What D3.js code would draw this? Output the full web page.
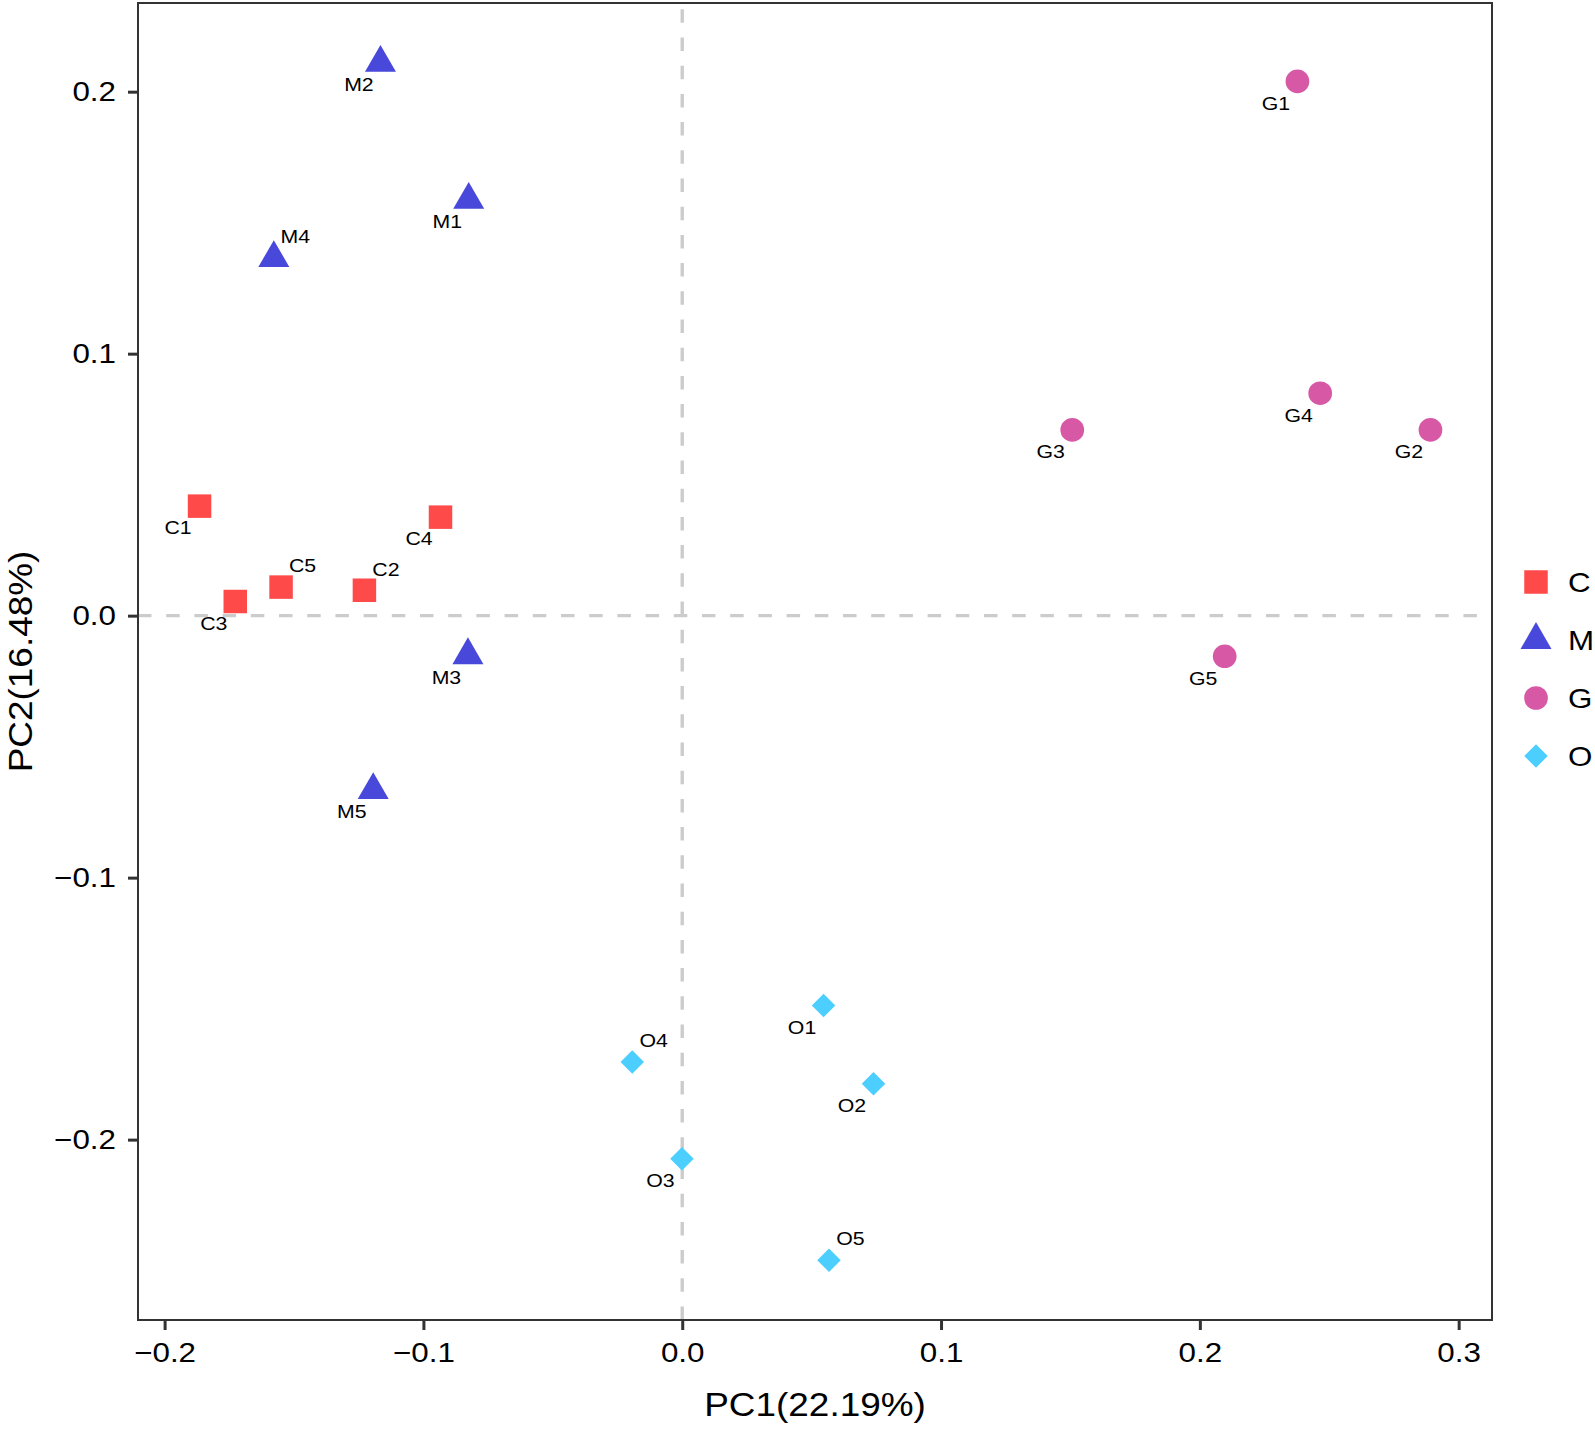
<!DOCTYPE html>
<html>
<head>
<meta charset="utf-8">
<script src="https://cdn.jsdelivr.net/npm/d3@7"></script>
<style>
  body { margin: 0; background: #ffffff; }
  svg { display: block; }
</style>
</head>
<body>
<svg id="chart" width="1595" height="1431"></svg>
<script>
// --- data ---
const groups = ["C", "M", "G", "O"];
const sampleNames = ["C1", "C2", "C3", "C4", "C5",
                     "M1", "M2", "M3", "M4", "M5",
                     "G1", "G2", "G3", "G4", "G5",
                     "O1", "O2", "O3", "O4", "O5"];
const sampleGroup = ["C", "C", "C", "C", "C",
                     "M", "M", "M", "M", "M",
                     "G", "G", "G", "G", "G",
                     "O", "O", "O", "O", "O"];
const pc1 = [-0.1865, -0.1228, -0.1727, -0.0934, -0.1550,
             -0.0825, -0.1166, -0.0828, -0.1578, -0.1194,
              0.2377,  0.2891,  0.1507,  0.2465,  0.2096,
              0.0546,  0.0739, -0.0001, -0.0193,  0.0567];
const pc2 = [ 0.0418,  0.0097,  0.0054,  0.0376,  0.0109,
              0.1587,  0.2110, -0.0151,  0.1365, -0.0666,
              0.2039,  0.0709,  0.0709,  0.0849, -0.0155,
             -0.1488, -0.1787, -0.2073, -0.1704, -0.2460];
// labels drawn up-right of their point (all others go down-left)
const labelsUpRight = ["C5", "C2", "M4", "O4", "O5"];

const xTickValues = [-0.2, -0.1, 0.0, 0.1, 0.2, 0.3];
const yTickValues = [-0.2, -0.1, 0.0, 0.1, 0.2];
const xTitle = "PC1(22.19%)";
const yTitle = "PC2(16.48%)";

const groupColors = { C: "#ff4a4a", M: "#4848da", G: "#d759a6", O: "#4ccfff" };

// --- layout ---
const panel = { left: 138, right: 1492, top: 3, bottom: 1320 };
const FONT = "'Liberation Sans', Arial, Helvetica, sans-serif";
const STRETCH = 1.12; // reference text is a bit wider than Arial

const diamond = {
  draw(context, size) {
    const r = Math.sqrt(size) / 2;
    context.moveTo(0, -r);
    context.lineTo(r, 0);
    context.lineTo(0, r);
    context.lineTo(-r, 0);
    context.closePath();
  }
};
const groupSymbol = {
  C: d3.symbol().type(d3.symbolSquare).size(23.5 * 23.5),
  M: d3.symbol().type(d3.symbolTriangle).size(416),
  G: d3.symbol().type(d3.symbolCircle).size(441),
  O: d3.symbol().type(diamond).size(23.5 * 23.5)
};

const points = sampleNames.map((name, i) => ({
  name, group: sampleGroup[i], x: pc1[i], y: pc2[i]
}));

// ggplot-like 5% expansion of the data range
function expand(ext) {
  const pad = (ext[1] - ext[0]) * 0.05;
  return [ext[0] - pad, ext[1] + pad];
}

const x = d3.scaleLinear()
  .domain(expand(d3.extent(pc1)))
  .range([panel.left, panel.right]);
const y = d3.scaleLinear()
  .domain(expand(d3.extent(pc2)))
  .range([panel.bottom, panel.top]);

const svg = d3.select("#chart");
svg.append("rect").attr("width", 1595).attr("height", 1431).attr("fill", "#ffffff");

// widen text horizontally about its own anchor point
function stretch(sel) {
  sel.each(function () {
    const t = d3.select(this);
    const tx = +t.attr("x") || 0;
    t.attr("transform", `translate(${tx},0) scale(${STRETCH},1) translate(${-tx},0)`);
  });
}

// reference lines at zero
svg.append("line")
  .attr("x1", panel.left).attr("x2", panel.right)
  .attr("y1", y(0)).attr("y2", y(0))
  .attr("stroke", "#cccccc")
  .attr("stroke-width", 3.4)
  .attr("stroke-dasharray", "13.5 14.7");

svg.append("line")
  .attr("x1", x(0)).attr("x2", x(0))
  .attr("y1", panel.bottom).attr("y2", panel.top)
  .attr("stroke", "#cccccc")
  .attr("stroke-width", 3.4)
  .attr("stroke-dasharray", "13.5 14.7");

// points
svg.append("g")
  .selectAll("path")
  .data(points)
  .enter()
  .append("path")
  .attr("transform", d => `translate(${x(d.x)},${y(d.y)})`)
  .attr("d", d => groupSymbol[d.group]())
  .attr("fill", d => groupColors[d.group]);

// point labels
const labelOffset = 21.5;
svg.append("g")
  .selectAll("text")
  .data(points)
  .enter()
  .append("text")
  .attr("x", d => x(d.x) + (labelsUpRight.includes(d.name) ? labelOffset : -labelOffset))
  .attr("y", d => y(d.y) + (labelsUpRight.includes(d.name) ? -labelOffset : labelOffset) + 6.8)
  .attr("text-anchor", "middle")
  .style("font-family", FONT)
  .style("font-size", "19px")
  .style("fill", "#000000")
  .text(d => d.name)
  .call(stretch);

// panel border
svg.append("rect")
  .attr("x", panel.left).attr("y", panel.top)
  .attr("width", panel.right - panel.left)
  .attr("height", panel.bottom - panel.top)
  .attr("fill", "none")
  .attr("stroke", "#333333")
  .attr("stroke-width", 2);

// axes
const fmt = d3.format(".1f");

const xAxis = svg.append("g")
  .attr("transform", `translate(0,${panel.bottom + 1})`)
  .call(d3.axisBottom(x).tickValues(xTickValues).tickFormat(fmt)
    .tickSize(9).tickSizeOuter(0).tickPadding(12));
xAxis.select(".domain").remove();
xAxis.selectAll(".tick line").attr("stroke", "#333333").attr("stroke-width", 3);
xAxis.selectAll(".tick text")
  .style("font-family", FONT).style("font-size", "28px").style("fill", "#000000")
  .call(stretch);

const yAxis = svg.append("g")
  .attr("transform", `translate(${panel.left - 1},0)`)
  .call(d3.axisLeft(y).tickValues(yTickValues).tickFormat(fmt)
    .tickSize(9).tickSizeOuter(0).tickPadding(12));
yAxis.select(".domain").remove();
yAxis.selectAll(".tick line").attr("stroke", "#333333").attr("stroke-width", 3);
yAxis.selectAll(".tick text")
  .style("font-family", FONT).style("font-size", "28px").style("fill", "#000000")
  .call(stretch);

// axis titles
svg.append("text")
  .attr("transform", `translate(${(panel.left + panel.right) / 2},1416) scale(${STRETCH},1)`)
  .attr("text-anchor", "middle")
  .style("font-family", FONT).style("font-size", "33px").style("fill", "#000000")
  .text(xTitle);

svg.append("text")
  .attr("transform", `translate(32,${(panel.top + panel.bottom) / 2}) rotate(-90) scale(${STRETCH},1)`)
  .attr("text-anchor", "middle")
  .style("font-family", FONT).style("font-size", "33px").style("fill", "#000000")
  .text(yTitle);

// legend
const legend = svg.append("g")
  .selectAll("g")
  .data(groups)
  .enter()
  .append("g")
  .attr("transform", (d, i) => `translate(1536,${582 + i * 58})`);

legend.append("path")
  .attr("d", d => groupSymbol[d]())
  .attr("fill", d => groupColors[d]);

legend.append("text")
  .attr("x", 32)
  .attr("y", 10)
  .style("font-family", FONT).style("font-size", "28px").style("fill", "#000000")
  .text(d => d)
  .call(stretch);
</script>
</body>
</html>
